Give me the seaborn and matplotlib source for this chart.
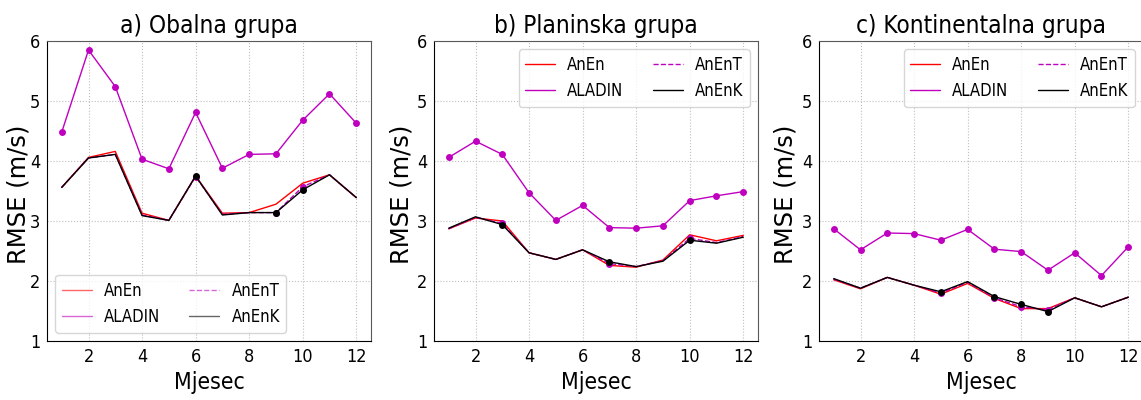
import numpy as np
import pandas as pd
import matplotlib
matplotlib.use("Agg")
import matplotlib.pyplot as plt
import seaborn as sns

months = list(range(1, 13))

titles = ["a) Obalna grupa", "b) Planinska grupa", "c) Kontinentalna grupa"]

# RMSE (m/s) per month for each group
anen = [
    [3.56, 4.06, 4.16, 3.13, 3.01, 3.75, 3.13, 3.14, 3.28, 3.63, 3.77, 3.39],
    [2.87, 3.05, 3.00, 2.47, 2.36, 2.52, 2.26, 2.23, 2.35, 2.77, 2.67, 2.76],
    [2.02, 1.87, 2.06, 1.93, 1.78, 1.96, 1.71, 1.54, 1.54, 1.72, 1.57, 1.73],
]
aladin = [
    [4.48, 5.85, 5.24, 4.03, 3.87, 4.81, 3.88, 4.11, 4.12, 4.68, 5.12, 4.63],
    [4.06, 4.33, 4.11, 3.47, 3.01, 3.26, 2.89, 2.88, 2.92, 3.34, 3.42, 3.49],
    [2.87, 2.52, 2.80, 2.79, 2.68, 2.86, 2.53, 2.49, 2.18, 2.47, 2.09, 2.57],
]
anent = [
    [3.56, 4.05, 4.11, 3.10, 3.01, 3.74, 3.11, 3.14, 3.14, 3.57, 3.77, 3.39],
    [2.87, 3.06, 2.96, 2.47, 2.36, 2.52, 2.29, 2.24, 2.34, 2.71, 2.64, 2.74],
    [2.03, 1.88, 2.06, 1.93, 1.80, 1.98, 1.72, 1.57, 1.52, 1.72, 1.57, 1.73],
]
anenk = [
    [3.56, 4.05, 4.11, 3.09, 3.01, 3.75, 3.10, 3.14, 3.14, 3.52, 3.77, 3.39],
    [2.88, 3.07, 2.94, 2.47, 2.36, 2.52, 2.32, 2.24, 2.33, 2.68, 2.63, 2.73],
    [2.04, 1.88, 2.06, 1.93, 1.82, 1.99, 1.74, 1.61, 1.49, 1.72, 1.57, 1.73],
]
# months where AnEnT / AnEnK points are marked
marked = [[6, 9, 10], [3, 7, 10], [5, 7, 8, 9]]
legend_loc = ["lower left", "upper right", "upper right"]

sns.set_style("whitegrid", {"grid.linestyle": ":", "grid.color": "0.75",
                            "axes.edgecolor": "0.35", "text.color": "black",
                            "axes.labelcolor": "black", "xtick.color": "black",
                            "ytick.color": "black"})
plt.rcParams["font.family"] = ["DejaVu Sans"]
plt.rcParams["font.stretch"] = "condensed"

fig = plt.figure(figsize=(11.41, 4.0), dpi=100)
lefts = [47, 434, 819]
ylab_x = [-0.05, -0.062, -0.065]

for k in range(3):
    ax = fig.add_axes([lefts[k] / 1141, 59 / 400, 324 / 1141, 300 / 400])
    idx = [m - 1 for m in marked[k]]
    sns.lineplot(x=months, y=anen[k], ax=ax, color="red", lw=1, label="AnEn")
    sns.lineplot(x=months, y=aladin[k], ax=ax, color="m", lw=1, label="ALADIN",
                 marker="o", markersize=5, markeredgewidth=0)
    sns.lineplot(x=months, y=anent[k], ax=ax, color="m", lw=1, ls="--", label="AnEnT",
                 marker="o", markersize=5, markeredgewidth=0, markevery=idx)
    sns.lineplot(x=months, y=anenk[k], ax=ax, color="black", lw=1, label="AnEnK",
                 marker="o", markersize=5, markeredgewidth=0, markevery=idx)
    ax.set_ylim(1, 6)
    ax.set_yticks([1, 2, 3, 4, 5, 6])
    ax.set_xticks([2, 4, 6, 8, 10, 12])
    ax.tick_params(labelsize=13, length=3, pad=2)
    ax.set_title(titles[k], fontsize=17.5)
    ax.set_xlabel("Mjesec", fontsize=16.5)
    ax.set_ylabel("RMSE (m/s)", fontsize=17.5, fontstretch="normal")
    ax.yaxis.set_label_coords(ylab_x[k], 0.49)
    leg = ax.legend(loc=legend_loc[k], ncol=2, fontsize=12, handlelength=1.8,
                    handletextpad=0.72, columnspacing=1.75, frameon=True)
    for h in leg.get_lines():
        h.set_marker("")
        if k == 0:
            h.set_alpha(0.6)
    for s in ["left", "bottom"]:
        ax.spines[s].set_color("black")

fig.savefig("out.png", dpi=100)
